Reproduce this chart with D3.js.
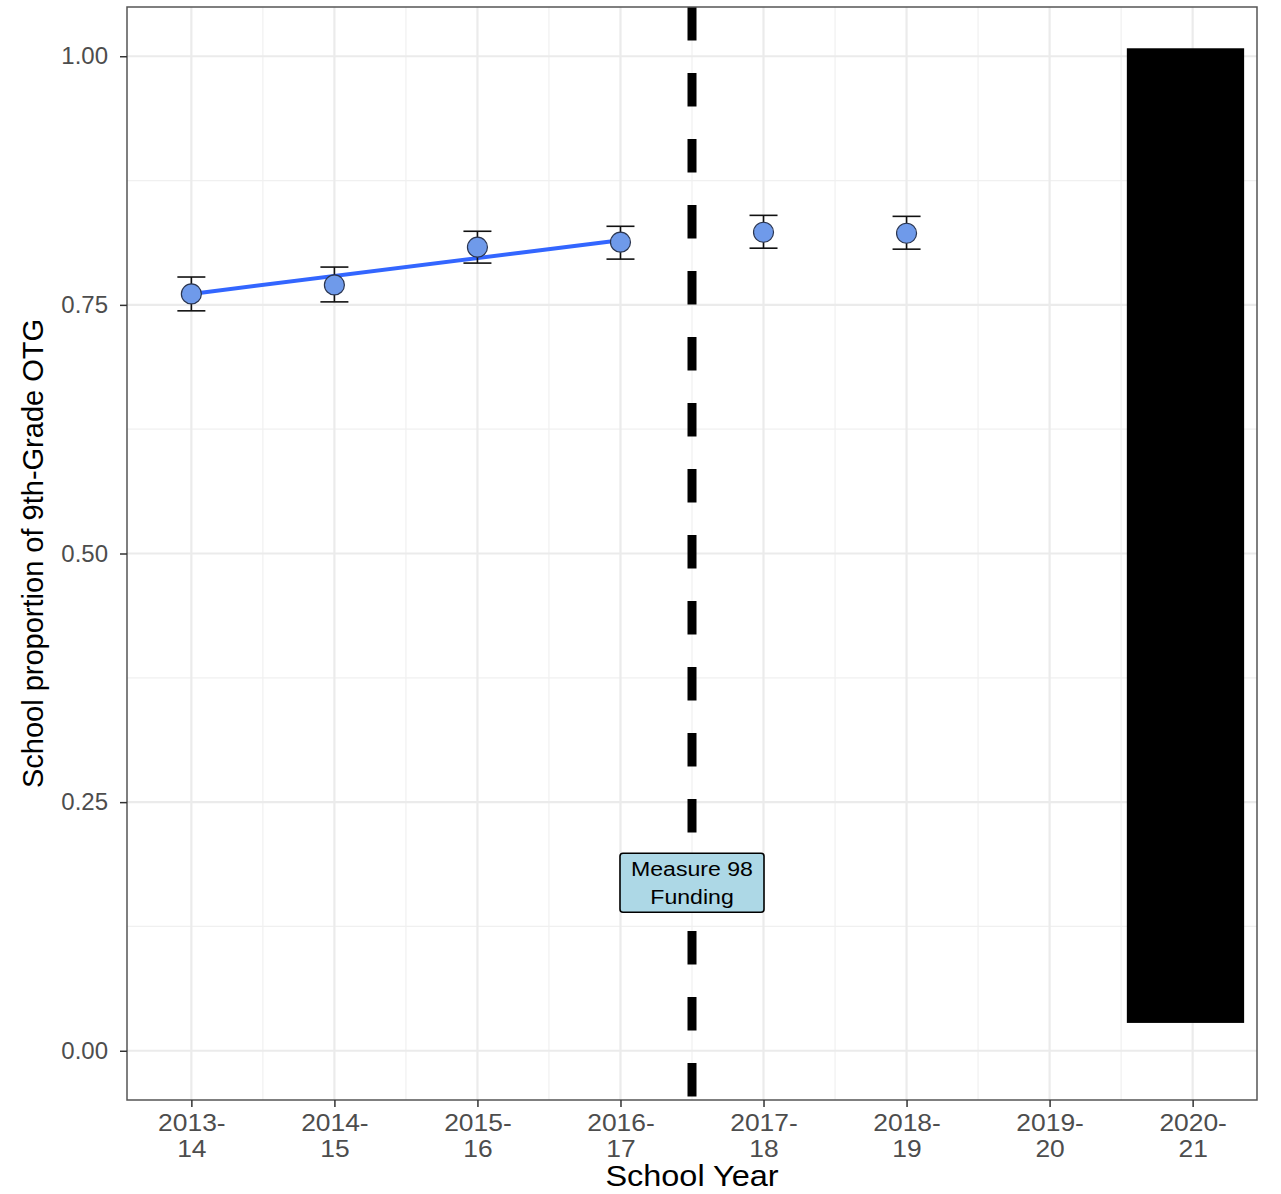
<!DOCTYPE html>
<html><head><meta charset="utf-8">
<script src="https://cdn.jsdelivr.net/npm/d3@7"></script>
<style>body{margin:0;background:#fff;} svg{display:block;}</style>
</head><body>
<script>
const categories = ["2013-14","2014-15","2015-16","2016-17","2017-18","2018-19","2019-20","2020-21"];
const catLabels = [["2013-","14"],["2014-","15"],["2015-","16"],["2016-","17"],["2017-","18"],["2018-","19"],["2019-","20"],["2020-","21"]];
const pointCats = ["2013-14","2014-15","2015-16","2016-17","2017-18","2018-19"];
const means = [0.761, 0.770, 0.808, 0.813, 0.823, 0.822];
const lower = [0.744, 0.753, 0.792, 0.796, 0.807, 0.806];
const upper = [0.778, 0.788, 0.824, 0.829, 0.840, 0.839];
const trendX = [1, 4];
const trendY = [0.761, 0.815];
const yTicks = [0, 0.25, 0.5, 0.75, 1.0];
const yMinor = [0.125, 0.375, 0.625, 0.875];
const vlineX = 4.5;
const annotation = {x: 4.5, y: 0.169, lines: ["Measure 98", "Funding"]};
const blockRect = {xmin: 7.54, xmax: 8.36, ymin: 0.028, ymax: 1.008};

const W = 1281, H = 1194;
const L = 127, R = 1257, T = 7, B = 1100;
const FONT = "Liberation Sans, Arial, sans-serif";
const svg = d3.select("body").append("svg").attr("width", W).attr("height", H);
const x = d3.scaleLinear().domain([0.55, 8.45]).range([L, R]);
const y = d3.scaleLinear().domain([-0.0495, 1.0495]).range([B, T]);
const xi = c => categories.indexOf(c) + 1;

const g = svg.append("g");
// grid minor
const xMinor = d3.range(1.5, 8.5, 1);
g.selectAll(".xm").data(xMinor).enter().append("line")
  .attr("x1", d => x(d)).attr("x2", d => x(d)).attr("y1", T).attr("y2", B)
  .attr("stroke", "#f0f0f0").attr("stroke-width", 1.2);
g.selectAll(".ym").data(yMinor).enter().append("line")
  .attr("y1", d => y(d)).attr("y2", d => y(d)).attr("x1", L).attr("x2", R)
  .attr("stroke", "#f0f0f0").attr("stroke-width", 1.2);
// grid major
g.selectAll(".xM").data(categories).enter().append("line")
  .attr("x1", d => x(xi(d))).attr("x2", d => x(xi(d))).attr("y1", T).attr("y2", B)
  .attr("stroke", "#ebebeb").attr("stroke-width", 2.2);
g.selectAll(".yM").data(yTicks).enter().append("line")
  .attr("y1", d => y(d)).attr("y2", d => y(d)).attr("x1", L).attr("x2", R)
  .attr("stroke", "#ebebeb").attr("stroke-width", 2.2);

// black block
g.append("rect").attr("x", x(blockRect.xmin)).attr("width", x(blockRect.xmax) - x(blockRect.xmin))
  .attr("y", y(blockRect.ymax)).attr("height", y(blockRect.ymin) - y(blockRect.ymax)).attr("fill", "#000");

// trend line
g.append("line").attr("x1", x(trendX[0])).attr("y1", y(trendY[0])).attr("x2", x(trendX[1])).attr("y2", y(trendY[1]))
  .attr("stroke", "#3366FF").attr("stroke-width", 4);

// error bars
const pts = pointCats.map((c, i) => ({c, m: means[i], lo: lower[i], hi: upper[i]}));
const eb = g.selectAll(".eb").data(pts).enter().append("g");
eb.append("line").attr("x1", d => x(xi(d.c))).attr("x2", d => x(xi(d.c))).attr("y1", d => y(d.lo)).attr("y2", d => y(d.hi))
  .attr("stroke", "#111").attr("stroke-width", 1.6);
eb.append("line").attr("x1", d => x(xi(d.c)) - 14).attr("x2", d => x(xi(d.c)) + 14).attr("y1", d => y(d.lo)).attr("y2", d => y(d.lo))
  .attr("stroke", "#111").attr("stroke-width", 1.6);
eb.append("line").attr("x1", d => x(xi(d.c)) - 14).attr("x2", d => x(xi(d.c)) + 14).attr("y1", d => y(d.hi)).attr("y2", d => y(d.hi))
  .attr("stroke", "#111").attr("stroke-width", 1.6);
eb.append("circle").attr("cx", d => x(xi(d.c))).attr("cy", d => y(d.m)).attr("r", 10)
  .attr("fill", "#6f9aea").attr("stroke", "#2a3550").attr("stroke-width", 1.2);

// vline
g.append("line").attr("x1", x(vlineX)).attr("x2", x(vlineX)).attr("y1", T).attr("y2", B)
  .attr("stroke", "#000").attr("stroke-width", 9).attr("stroke-dasharray", "33.5,32.5");

// label
const lw = 144, lh = 59;
const lg = g.append("g");
lg.append("rect").attr("x", x(annotation.x) - lw/2).attr("y", y(annotation.y) - lh/2).attr("width", lw).attr("height", lh)
  .attr("rx", 3).attr("fill", "#add8e6").attr("stroke", "#000").attr("stroke-width", 1.6);
annotation.lines.forEach((t, i) => {
  const cx = x(annotation.x);
  lg.append("text").attr("transform", `translate(${cx},${y(annotation.y) - 7 + i * 28}) scale(1.1,1)`)
    .attr("text-anchor", "middle").attr("font-family", FONT).attr("font-size", 21)
    .attr("fill", "#000").text(t);
});

// panel border
svg.append("rect").attr("x", L).attr("y", T).attr("width", R - L).attr("height", B - T)
  .attr("fill", "none").attr("stroke", "#555").attr("stroke-width", 1.5);

// y axis
const yAx = svg.append("g").attr("transform", `translate(${L},0)`)
  .call(d3.axisLeft(y).tickValues(yTicks).tickFormat(d3.format(".2f")).tickSize(7).tickPadding(12));
yAx.select(".domain").remove();
yAx.selectAll("line").attr("stroke", "#333").attr("stroke-width", 1.5);
yAx.selectAll("text").attr("font-family", FONT).attr("font-size", 24).attr("fill", "#4d4d4d");

// x axis
const xAx = svg.append("g").attr("transform", `translate(0,${B})`)
  .call(d3.axisBottom(x).tickValues(categories.map((c, i) => i + 1)).tickFormat("").tickSize(7));
xAx.select(".domain").remove();
xAx.selectAll("line").attr("stroke", "#333").attr("stroke-width", 1.5);
xAx.selectAll(".tick").each(function(d, i) {
  const t = d3.select(this).append("text").attr("text-anchor", "middle").attr("transform", "scale(1.1,1)")
    .attr("font-family", FONT).attr("font-size", 24).attr("fill", "#4d4d4d");
  catLabels[i].forEach((s, k) => t.append("tspan").attr("x", 0).attr("y", 31 + k * 26).text(s));
});

// titles
svg.append("text").attr("transform", `translate(${(L + R) / 2},1186) scale(1.12,1)`).attr("text-anchor", "middle")
  .attr("font-family", FONT).attr("font-size", 29).attr("fill", "#000").text("School Year");
svg.append("text").attr("transform", `translate(43,${(T + B) / 2}) rotate(-90)`).attr("text-anchor", "middle")
  .attr("font-family", FONT).attr("font-size", 29).attr("fill", "#000")
  .text("School proportion of 9th-Grade OTG");
</script>
</body></html>
